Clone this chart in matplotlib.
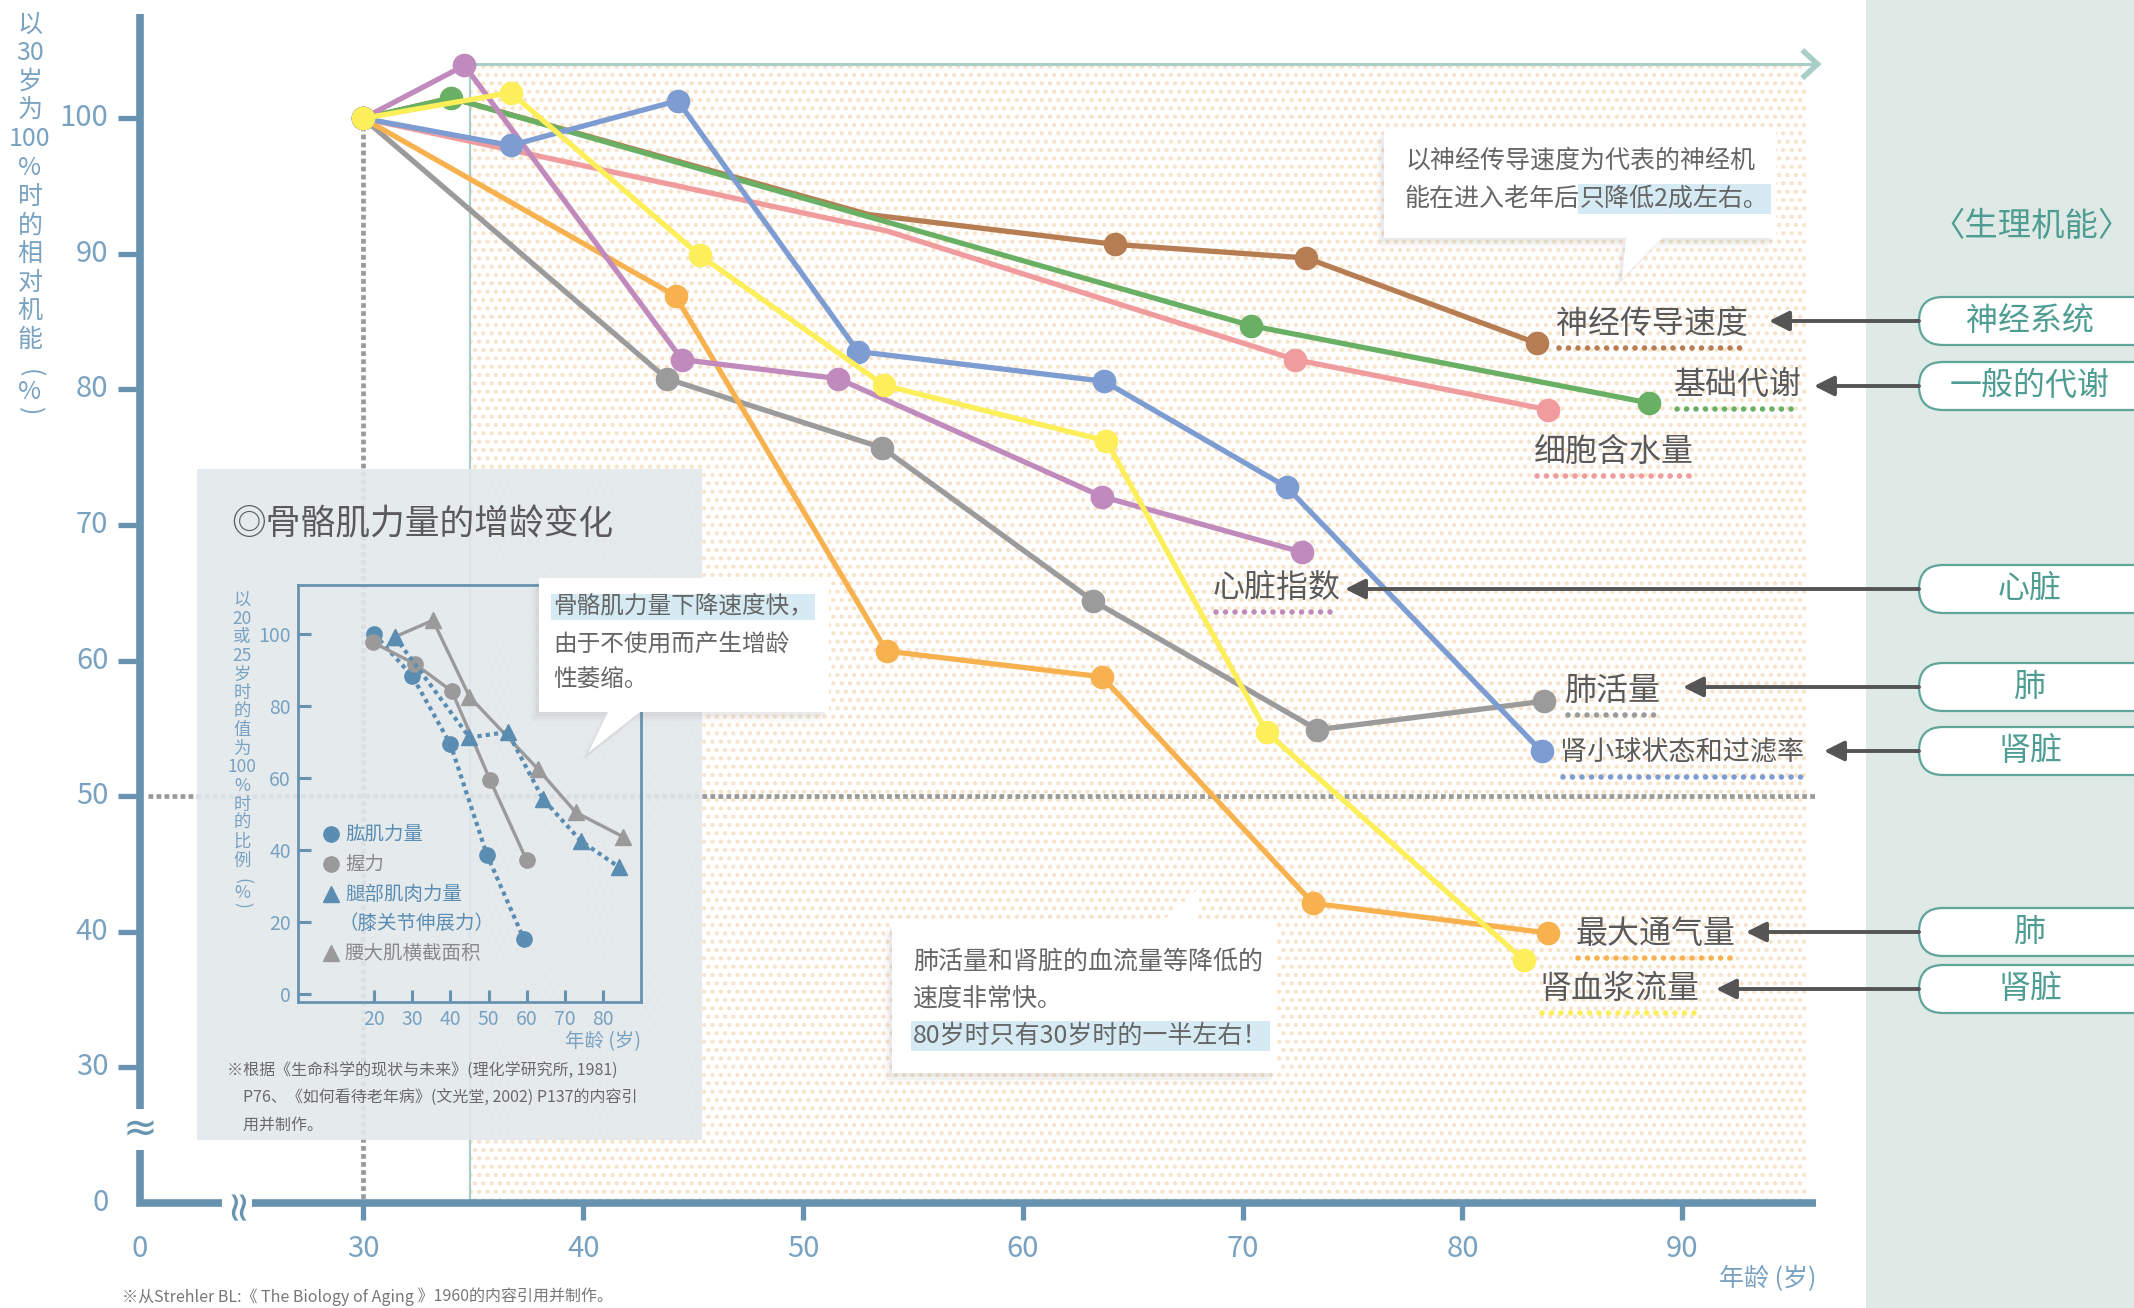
import matplotlib
matplotlib.use("Agg")
import matplotlib.pyplot as plt
from matplotlib.patches import Rectangle, Polygon, FancyBboxPatch

plt.rcParams["font.family"] = ["Noto Sans CJK SC", "DejaVu Sans"]
plt.rcParams["hatch.linewidth"] = 1.8

# main chart: age (years) vs function relative to age 30 (%)
nerve_age = [30, 34, 53, 64.2, 72.9, 83.4]
nerve_val = [100, 101.5, 92.9, 90.7, 89.7, 83.4]
bmr_age = [30, 34, 70.4, 88.5]
bmr_val = [100, 101.5, 84.7, 79.0]
water_age = [30, 53.8, 72.4, 83.9]
water_val = [100, 91.7, 82.2, 78.5]
gfr_age = [30, 36.7, 44.3, 52.5, 63.7, 72.0, 83.6]
gfr_val = [100, 98.0, 101.3, 82.8, 80.6, 72.8, 53.3]
heart_age = [30, 34.6, 44.5, 51.6, 63.6, 72.7]
heart_val = [100, 103.9, 82.2, 80.8, 72.1, 68.0]
vc_age = [30, 43.8, 53.6, 63.2, 73.4, 83.7]
vc_val = [100, 80.8, 75.7, 64.4, 54.9, 57.0]
mvv_age = [30, 44.2, 53.8, 63.6, 73.2, 83.9]
mvv_val = [100, 86.9, 60.7, 58.8, 42.1, 39.9]
rpf_age = [30, 36.7, 45.3, 53.7, 63.8, 71.1, 82.8]
rpf_val = [100, 101.9, 89.9, 80.3, 76.2, 54.7, 37.9]

x_ticks = [30, 40, 50, 60, 70, 80, 90]
y_ticks = [30, 40, 50, 60, 70, 80, 90, 100]

# inset: skeletal muscle (% of value at 20 or 25)
arm_age = [20, 30, 40, 49.6, 59.3]
arm_val = [99.9, 88.2, 69.3, 38.6, 15.2]
grip_age = [19.6, 30.7, 40.4, 50.4, 60]
grip_val = [97.6, 91.6, 84.0, 59.4, 37.1]
knee_age = [25.4, 45, 55, 64.3, 74.3, 84.3]
knee_val = [99.1, 71.2, 72.7, 54.1, 42.4, 35.2]
psoas_age = [25.4, 35.4, 45, 62.9, 72.9, 85.4]
psoas_val = [99.1, 103.7, 82.5, 62.5, 50.4, 43.6]

STEEL = "#6893b0"
TICK = "#79a2c1"
TEAL = "#4f9d92"
TXT = "#5a5a5a"
HL = "#d5eaf2"

W, H = 2134, 1308
fig = plt.figure(figsize=(W / 100, H / 100), dpi=100)

ax = fig.add_axes([0, 0, 1, 1], zorder=1)
ax.set_xlim(13.47, 110.55)
ax.set_ylim(12.24, 108.73)
ax.axis("off")

# dotted background area
ax.add_patch(Rectangle((34.83, 20), 95.63 - 34.83, 84, facecolor="white",
                       edgecolor="#f8e3c8", hatch="..", lw=0, zorder=0))
ax.plot([34.83, 34.83], [20, 104], color="#a9cec8", lw=1.6, zorder=1)
ax.plot([34.83, 96.0], [104, 104], color="#a9cec8", lw=2.2, zorder=1)
ax.plot([95.55, 96.15, 95.55], [104.9, 104, 103.1], color="#a9cec8", lw=4,
        solid_joinstyle="miter", zorder=1)

# reference lines
ax.plot([20.2, 96.1], [50, 50], color="#999999", lw=3.4, linestyle=(0, (1, 0.7)), zorder=2)
ax.plot([30, 30], [100, 20], color="#999999", lw=3.4, linestyle=(0, (1, 0.7)), zorder=2)

series = [
    (nerve_age, nerve_val, "#b67d52", [3, 4, 5]),
    (water_age, water_val, "#f09b9d", [0, 2, 3]),
    (bmr_age, bmr_val, "#69b065", None),
    (vc_age, vc_val, "#9b9b9b", None),
    (mvv_age, mvv_val, "#f7b24f", None),
    (heart_age, heart_val, "#c08abd", None),
    (gfr_age, gfr_val, "#7d9cd2", None),
    (rpf_age, rpf_val, "#fcef5a", None),
]
for i, (xs, ys, c, me) in enumerate(series):
    ax.plot(xs, ys, color=c, lw=3.8, marker="o", ms=16, markevery=me,
            solid_joinstyle="round", zorder=5 + i)

# axes with breaks
ax.plot([19.85, 19.85], [26.9, 107.7], color=STEEL, lw=5.5, solid_capstyle="butt", zorder=3)
ax.plot([19.85, 19.85, 23.55], [23.9, 20, 20], color=STEEL, lw=5.5,
        solid_joinstyle="miter", solid_capstyle="butt", zorder=3)
ax.plot([24.95, 96.1], [20, 20], color=STEEL, lw=5.5, solid_capstyle="butt", zorder=3)
ax.text(19.85, 25.4, "≈", fontsize=30, color=STEEL, ha="center", va="center",
        family="DejaVu Sans", zorder=3)
ax.text(24.25, 20, "≈", fontsize=30, color=STEEL, ha="center", va="center",
        rotation=90, family="DejaVu Sans", zorder=3)
for v in y_ticks:
    ax.plot([18.85, 19.85], [v, v], color=STEEL, lw=3.8, solid_capstyle="butt", zorder=3)
    ax.text(18.4, v, str(v), fontsize=21, color=TICK, ha="right", va="center")
ax.text(18.4, 20, "0", fontsize=21, color=TICK, ha="right", va="center")
for v in x_ticks:
    ax.plot([v, v], [20, 18.7], color=STEEL, lw=3.8, solid_capstyle="butt", zorder=3)
    ax.text(v, 16.6, str(v), fontsize=21, color=TICK, ha="center", va="center")
ax.text(19.8, 16.6, "0", fontsize=21, color=TICK, ha="center", va="center")
ax.text(96.1, 14.4, "年龄 (岁)", fontsize=18, color=TICK, ha="right", va="center")

# pixel overlay for annotations
px = fig.add_axes([0, 0, 1, 1], zorder=2)
px.set_xlim(0, W)
px.set_ylim(H, 0)
px.axis("off")
rend = fig.canvas.get_renderer()


def run(axp, x, y, parts, size, color, z=8):
    for s, hl, style in parts:
        kw = {}
        if hl:
            kw["bbox"] = dict(boxstyle="square,pad=0.08", fc=HL, ec="none")
        t = axp.text(x, y, s, fontsize=size, color=color, ha="left", va="center",
                     style=style, zorder=z, **kw)
        bb = t.get_window_extent(rend)
        x = axp.transData.inverted().transform((bb.x1, bb.y0))[0]


def bubble(axp, verts, z=6):
    for dx, dy, a in [(-8, 10, 0.035), (-5, 7, 0.05), (-3, 4, 0.07)]:
        axp.add_patch(Polygon([(vx + dx, vy + dy) for vx, vy in verts], closed=True,
                              fc="#808080", ec="none", alpha=a, zorder=z))
    axp.add_patch(Polygon(verts, closed=True, fc="white", ec="none", zorder=z + 1))


def stacked(axp, x, y0, step, toks, size, pstep, z=3):
    y = y0
    for s in toks:
        axp.text(x, y, s, fontsize=size, color=TICK, ha="center", va="center", zorder=z)
        y += step
    y += pstep * 0.2
    for s, rot in [("(", -90), ("%", 0), (")", -90)]:
        axp.text(x, y, s, fontsize=size, color=TICK, ha="center", va="center",
                 rotation=rot, zorder=z)
        y += pstep


# y label (vertical)
stacked(px, 30, 24.5, 28.7, ["以", "30", "岁", "为", "100", "%", "时", "的", "相", "对", "机", "能"],
        18, 19)

# right panel
px.add_patch(Rectangle((1866, 0), W - 1866, H, fc="#dfe9e6", ec="none", zorder=1))
px.text(2032, 226, "〈生理机能〉", fontsize=24, color=TEAL, ha="center", va="center")
pills = [("神经系统", 321, 1769), ("一般的代谢", 386, 1814), ("心脏", 589, 1345),
         ("肺", 687, 1683), ("肾脏", 751, 1824), ("肺", 932, 1746), ("肾脏", 989, 1716)]
for s, cy, tx in pills:
    px.add_patch(FancyBboxPatch((1919, cy - 24), 320, 48,
                                boxstyle="round,pad=0,rounding_size=24",
                                fc="white", ec="#5fa59a", lw=1.6, zorder=3))
    px.text(2030, cy, s, fontsize=23, color=TEAL, ha="center", va="center", zorder=4)
    px.annotate("", xy=(tx, cy), xytext=(1919, cy), zorder=4,
                arrowprops=dict(arrowstyle="-|>", color="#555555", lw=2.8,
                                mutation_scale=30, shrinkA=0, shrinkB=0))

# series labels with dotted underlines
labels = [
    ("神经传导速度", 1556, 324, 1746, "#b67d52", 23),
    ("基础代谢", 1674, 385, 1797, "#69b065", 23),
    ("细胞含水量", 1534, 452, 1694, "#f09b9d", 23),
    ("心脏指数", 1213, 588, 1337, "#c08abd", 23),
    ("肺活量", 1565, 691, 1663, "#9b9b9b", 23),
    ("肾小球状态和过滤率", 1560, 753, 1807, "#7d9cd2", 19.5),
    ("最大通气量", 1575, 934, 1733, "#f7b24f", 23),
    ("肾血浆流量", 1539, 989, 1698, "#fcef5a", 23),
]
for s, lx, ly, ex, c, fs in labels:
    px.text(lx, ly, s, fontsize=fs, color=TXT, ha="left", va="center", zorder=5)
    px.plot([lx + 3, ex], [ly + 24, ly + 24], color=c, lw=4,
            linestyle=(0, (0.01, 1.7)), dash_capstyle="round", zorder=5)

# callout: nerve function
bubble(px, [(1384, 129), (1776, 129), (1776, 238), (1662, 238), (1622, 279),
            (1626, 238), (1384, 238)])
run(px, 1405, 161, [("以神经传导速度为代表的神经机", False, "normal")], 18, "#666666")
run(px, 1405, 199, [("能在进入老年后", False, "normal"), ("只降低2成左右。", True, "normal")],
    18, "#666666")

# callout: lung and kidney
bubble(px, [(892, 923), (1160, 923), (1200, 887), (1198, 923), (1277, 923),
            (1277, 1073), (892, 1073)])
run(px, 913, 962, [("肺活量和肾脏的血流量等降低的", False, "normal")], 18, "#666666")
run(px, 913, 999, [("速度非常快。", False, "normal")], 18, "#666666")
run(px, 913, 1036, [("80岁时只有30岁时的一半左右！", True, "normal")], 18, "#666666")

# inset panel
px.add_patch(Rectangle((197, 469), 505, 671, fc="#e3e8ec", ec="none", alpha=0.9, zorder=2))
px.text(231, 525, "◎骨骼肌力量的增龄变化", fontsize=25, color=TXT, ha="left", va="center", zorder=3)
stacked(px, 242, 600, 18.6,
        ["以", "20", "或", "25", "岁", "时", "的", "值", "为", "100", "%", "时", "的", "比", "例"],
        12.5, 12)
px.text(641, 1042, "年龄 (岁)", fontsize=14, color=TICK, ha="right", va="center", zorder=3)
foot_in = ["※根据《生命科学的现状与未来》(理化学研究所, 1981)",
           "　P76、《如何看待老年病》(文光堂, 2002) P137的内容引",
           "　用并制作。"]
for i, s in enumerate(foot_in):
    px.text(227, 1071 + i * 27, s, fontsize=11.5, color="#6a6a6a", ha="left", va="center", zorder=3)

BLUE_IN = "#5b8db3"
GRAY_IN = "#9a9a9a"
legend_rows = [("o", BLUE_IN, "肱肌力量", 834), ("o", GRAY_IN, "握力", 864),
               ("^", BLUE_IN, "腿部肌肉力量", 894), ("^", GRAY_IN, "腰大肌横截面积", 953)]
for m, c, s, yy in legend_rows:
    px.plot([331], [yy], marker=m, color=c, ms=11, zorder=3)
    px.text(345, yy, s, fontsize=14, color=c if c == BLUE_IN else "#8a8a8a",
            ha="left", va="center", zorder=3)
px.text(338, 923, "（膝关节伸展力）", fontsize=14, color=BLUE_IN, ha="left", va="center", zorder=3)

axi = fig.add_axes([298 / W, 1 - 1002 / H, (641 - 298) / W, (1002 - 585) / H], zorder=3)
axi.set_facecolor("none")
axi.set_xlim(0, 90)
axi.set_ylim(-2.2, 113.5)
for sp in axi.spines.values():
    sp.set_color(STEEL)
    sp.set_linewidth(2)
axi.set_xticks(range(20, 90, 10))
axi.set_yticks(range(0, 101, 20))
axi.tick_params(direction="in", length=9, width=2.2, color=STEEL, labelcolor=TICK,
                labelsize=14, pad=5)
axi.plot(arm_age, arm_val, color=BLUE_IN, lw=3, linestyle=(0, (1, 1)), marker="o", ms=11)
axi.plot(grip_age, grip_val, color=GRAY_IN, lw=2.4, marker="o", ms=11)
axi.plot(psoas_age, psoas_val, color=GRAY_IN, lw=2.4, marker="^", ms=11)
axi.plot(knee_age, knee_val, color=BLUE_IN, lw=3, linestyle=(0, (1, 1)), marker="^", ms=11)

# inset callout on top
px2 = fig.add_axes([0, 0, 1, 1], zorder=4)
px2.set_xlim(0, W)
px2.set_ylim(H, 0)
px2.axis("off")
bubble(px2, [(539, 578), (829, 578), (829, 712), (640, 712), (588, 753),
             (608, 712), (539, 712)])
run(px2, 553, 607, [("骨骼肌力量下降速度快，", True, "normal")], 17, "#666666")
run(px2, 553, 644, [("由于不使用而产生增龄", False, "normal")], 17, "#666666")
run(px2, 553, 680, [("性萎缩。", False, "normal")], 17, "#666666")

# source note
run(px2, 122, 1297, [("※从Strehler BL:《 ", False, "normal"),
                     ("The Biology of Aging", False, "italic"),
                     (" 》1960的内容引用并制作。", False, "normal")], 11.5, "#777777")

fig.savefig("out.png", dpi=100)
